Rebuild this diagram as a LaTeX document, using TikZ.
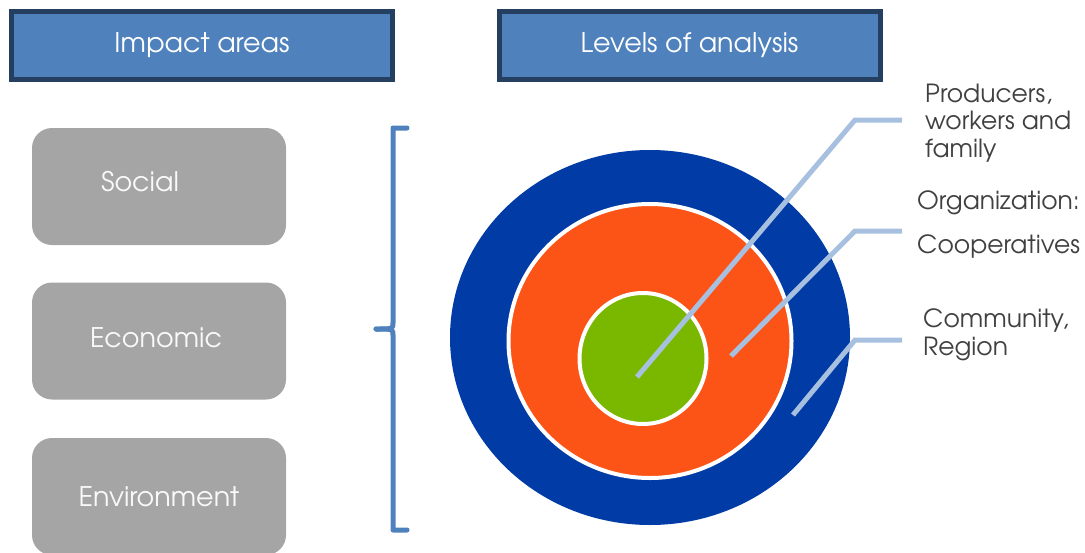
\documentclass[tikz,border=0pt]{standalone}
\usepackage{fontspec}
\setmainfont{texgyreadventor-regular.otf}
\definecolor{hdrfill}{HTML}{4F81BD}
\definecolor{hdrline}{HTML}{243F60}
\definecolor{boxgray}{HTML}{A5A5A5}
\definecolor{ringblue}{HTML}{003BA6}
\definecolor{ringorange}{HTML}{FC5317}
\definecolor{ringgreen}{HTML}{7AB800}
\definecolor{leader}{HTML}{A7C0DF}
\definecolor{labelgray}{HTML}{404040}
\tikzset{
  header/.style={draw=hdrline, line width=5pt, fill=hdrfill, text=white,
    minimum width=381pt, minimum height=68pt, inner sep=0pt, font=\fontsize{27}{30}\selectfont},
  areabox/.style={fill=boxgray, rounded corners=20pt, minimum width=254pt, minimum height=117pt,
    inner sep=0pt},
  areatext/.style={text=white!95!gray, inner sep=0pt, font=\fontsize{27}{30}\selectfont},
  ring/.style={ellipse, draw=white, line width=4pt, inner sep=0pt},
  leaderline/.style={draw=leader, line width=5pt},
  lbl/.style={text=labelgray, anchor=west, align=left, inner sep=0pt, font=\fontsize{25}{27.5}\selectfont},
  bracket/.style={draw=hdrfill, line width=5pt, line cap=round, line join=round}
}
\usetikzlibrary{shapes.geometric}
\begin{document}
\begin{tikzpicture}[x=1pt,y=-1pt]
\useasboundingbox (0,0) rectangle (1085,552);
% headers
\node[header] (h1) at (202,45.5) {Impact areas};
\node[header] (h2) at (689.5,45.5) {Levels of analysis};
% area boxes
\node[areabox] (soc) at (159,186.5) {};
\node[areatext] (soct) at (140,182) {Social};
\node[areabox] (eco) at (159,341) {};
\node[areatext] (ecot) at (156,338) {Economic};
\node[areabox] (env) at (159,496.5) {};
\node[areatext] (envt) at (159,497) {Environment};
% bracket
\coordinate (bt) at (407,128);
\coordinate (bb) at (407,530);
\coordinate (bm) at (376,329);
\draw[bracket] (bt) -- (393,128) -- (393,323) .. controls (393,329) .. (bm);
\draw[bracket] (bm) .. controls (393,329) .. (393,335) -- (393,530) -- (bb);
% rings
\node[ellipse, fill=ringblue, minimum width=400pt, minimum height=375pt, inner sep=0pt] (outer) at (650,337.5) {};
\node[ring, fill=ringorange, minimum width=283pt, minimum height=274pt] (mid) at (650,341) {};
\node[ring, fill=ringgreen, minimum width=127pt, minimum height=131pt] (inner) at (643,358.5) {};
% leader lines
\coordinate (p1) at (637,377);
\coordinate (k1) at (855,120);
\coordinate (e1) at (902,120);
\coordinate (p2) at (731,356);
\coordinate (k2) at (855,231);
\coordinate (e2) at (902,231);
\coordinate (p3) at (793,415);
\coordinate (k3) at (855,340);
\coordinate (e3) at (902,340);
\draw[leaderline] (p1) -- (k1) -- (e1);
\draw[leaderline] (p2) -- (k2) -- (e2);
\draw[leaderline] (p3) -- (k3) -- (e3);
% labels
\node[lbl] (l1) at (925,123) {Producers,\\workers and\\family};
\node[lbl] (l2a) at (917,203) {Organization:};
\node[lbl] (l2b) at (917,246) {Cooperatives};
\node[lbl] (l3) at (923,335) {Community,\\Region};
\end{tikzpicture}
\end{document}
